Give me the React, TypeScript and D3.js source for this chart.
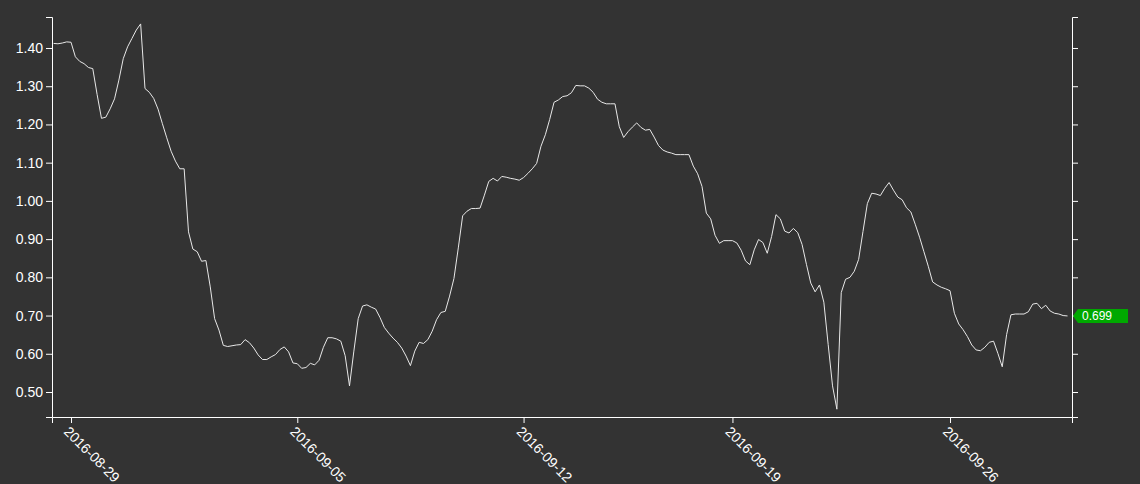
import React, { useEffect, useRef } from "react";
import * as d3 from "d3";

// ---- data ----
const weekLabels = ["2016-08-29", "2016-09-05", "2016-09-12", "2016-09-19", "2016-09-26"];
// number of observations before the first labelled Monday, then per week
const pointsBeforeFirstWeek = 4;
const pointsPerWeek = [52, 52, 48, 50, 28];

const values = [
  1.412, 1.411, 1.413, 1.416, 1.415, 1.377, 1.365, 1.359, 1.349, 1.346,
  1.278, 1.216, 1.219, 1.241, 1.267, 1.316, 1.372, 1.403, 1.425, 1.447,
  1.463, 1.294, 1.284, 1.268, 1.240, 1.202, 1.165, 1.130, 1.104, 1.084,
  1.084, 0.919, 0.874, 0.867, 0.842, 0.844, 0.775, 0.692, 0.662, 0.622,
  0.619, 0.621, 0.623, 0.624, 0.637, 0.629, 0.615, 0.597, 0.585, 0.585,
  0.592, 0.598, 0.611, 0.618, 0.605, 0.576, 0.574, 0.562, 0.564, 0.575,
  0.571, 0.583, 0.617, 0.642, 0.642, 0.639, 0.633, 0.595, 0.516, 0.607,
  0.692, 0.725, 0.728, 0.722, 0.717, 0.695, 0.669, 0.654, 0.641, 0.630,
  0.615, 0.594, 0.569, 0.607, 0.630, 0.627, 0.637, 0.659, 0.689, 0.708,
  0.711, 0.751, 0.797, 0.877, 0.961, 0.973, 0.980, 0.980, 0.981, 1.015,
  1.051, 1.059, 1.052, 1.064, 1.062, 1.059, 1.057, 1.054, 1.061, 1.072,
  1.084, 1.098, 1.143, 1.173, 1.213, 1.258, 1.264, 1.273, 1.275, 1.283,
  1.302, 1.301, 1.301, 1.295, 1.284, 1.266, 1.258, 1.254, 1.254, 1.254,
  1.194, 1.166, 1.181, 1.193, 1.204, 1.192, 1.185, 1.187, 1.167, 1.145,
  1.133, 1.128, 1.125, 1.121, 1.121, 1.121, 1.121, 1.091, 1.071, 1.038,
  0.968, 0.953, 0.910, 0.889, 0.896, 0.896, 0.896, 0.890, 0.871, 0.843,
  0.833, 0.872, 0.899, 0.891, 0.863, 0.907, 0.964, 0.953, 0.921, 0.916,
  0.928, 0.917, 0.886, 0.834, 0.785, 0.762, 0.780, 0.735, 0.624, 0.516,
  0.455, 0.760, 0.795, 0.800, 0.816, 0.847, 0.920, 0.993, 1.020, 1.018,
  1.014, 1.033, 1.048, 1.028, 1.010, 1.003, 0.982, 0.971, 0.939, 0.905,
  0.867, 0.829, 0.788, 0.780, 0.774, 0.770, 0.765, 0.706, 0.678, 0.663,
  0.645, 0.623, 0.610, 0.608, 0.617, 0.630, 0.633, 0.601, 0.566, 0.650,
  0.702, 0.704, 0.704, 0.704, 0.710, 0.730, 0.732, 0.718, 0.727, 0.712,
  0.706, 0.704, 0.700, 0.699,
];

const yTicks = [0.5, 0.6, 0.7, 0.8, 0.9, 1.0, 1.1, 1.2, 1.3, 1.4];
const yDomain = [0.4346, 1.4811];

// ---- layout ----
const W = 1140;
const H = 484;
const plotLeft = 52;
const plotRight = 1072;
const plotTop = 17;
const plotBottom = 417;
const padLeft = 0.37;
const padRight = 1.03;
const FONT = "'Liberation Sans', Arial, Helvetica, sans-serif";

export default function App() {
  const ref = useRef<SVGSVGElement | null>(null);

  useEffect(() => {
    const svg = d3.select(ref.current);
    svg.selectAll("*").remove();

    const N = values.length;
    const x = d3.scaleLinear().domain([-padLeft, N - 1 + padRight]).range([plotLeft, plotRight]);
    const y = d3.scaleLinear().domain(yDomain).range([plotBottom, plotTop]);

    // tick indices = first observation of each labelled week
    const tickIdx: number[] = [];
    let acc = pointsBeforeFirstWeek;
    pointsPerWeek.forEach((c, k) => {
      if (k < weekLabels.length) tickIdx.push(acc);
      acc += c;
    });

    svg.append("rect").attr("width", W).attr("height", H).attr("fill", "#333333");

    // line
    const line = d3
      .line<number>()
      .x((_, i) => x(i))
      .y((d) => y(d));
    svg
      .append("path")
      .datum(values)
      .attr("d", line)
      .attr("fill", "none")
      .attr("stroke", "#e8e8e8")
      .attr("stroke-width", 1);

    const styleAxis = (g: any) => {
      g.selectAll("path, line").attr("stroke", "#ffffff");
      g.selectAll("text")
        .attr("fill", "#ffffff")
        .style("font-family", FONT)
        .style("font-size", "14px");
    };

    // left axis
    svg
      .append("g")
      .attr("transform", `translate(${plotLeft},0)`)
      .call(d3.axisLeft(y).tickValues(yTicks).tickFormat(d3.format(".2f")) as any)
      .call(styleAxis)
      .attr("font-family", null);

    // right axis (no labels)
    svg
      .append("g")
      .attr("transform", `translate(${plotRight},0)`)
      .call(d3.axisRight(y).tickValues(yTicks).tickFormat(() => "") as any)
      .call(styleAxis);

    // bottom axis
    const xAxis = d3
      .axisBottom(x)
      .tickValues(tickIdx)
      .tickFormat((d: any) => weekLabels[tickIdx.indexOf(+d)]);
    const gx = svg
      .append("g")
      .attr("transform", `translate(0,${plotBottom})`)
      .call(xAxis as any)
      .call(styleAxis);
    gx.selectAll("text")
      .attr("x", 5)
      .attr("y", 7)
      .attr("dy", "0.71em")
      .attr("transform", "rotate(45)")
      .style("text-anchor", "start");

    // last value annotation
    const last = values[N - 1];
    const ya = y(last);
    const ann = svg.append("g").attr("transform", `translate(${plotRight + 1},${ya})`);
    ann
      .append("path")
      .attr("d", "M0,0 l5,-7 h50 v14 h-50 z")
      .attr("fill", "#00a800");
    ann
      .append("text")
      .attr("x", 9)
      .attr("y", 4.5)
      .attr("fill", "#ffffff")
      .style("font-family", FONT)
      .style("font-size", "12px")
      .text(d3.format(".3f")(last));
  }, []);

  return (
    <svg
      ref={ref}
      width={W}
      height={H}
      style={{ position: "absolute", left: 0, top: 0, display: "block" }}
    />
  );
}
